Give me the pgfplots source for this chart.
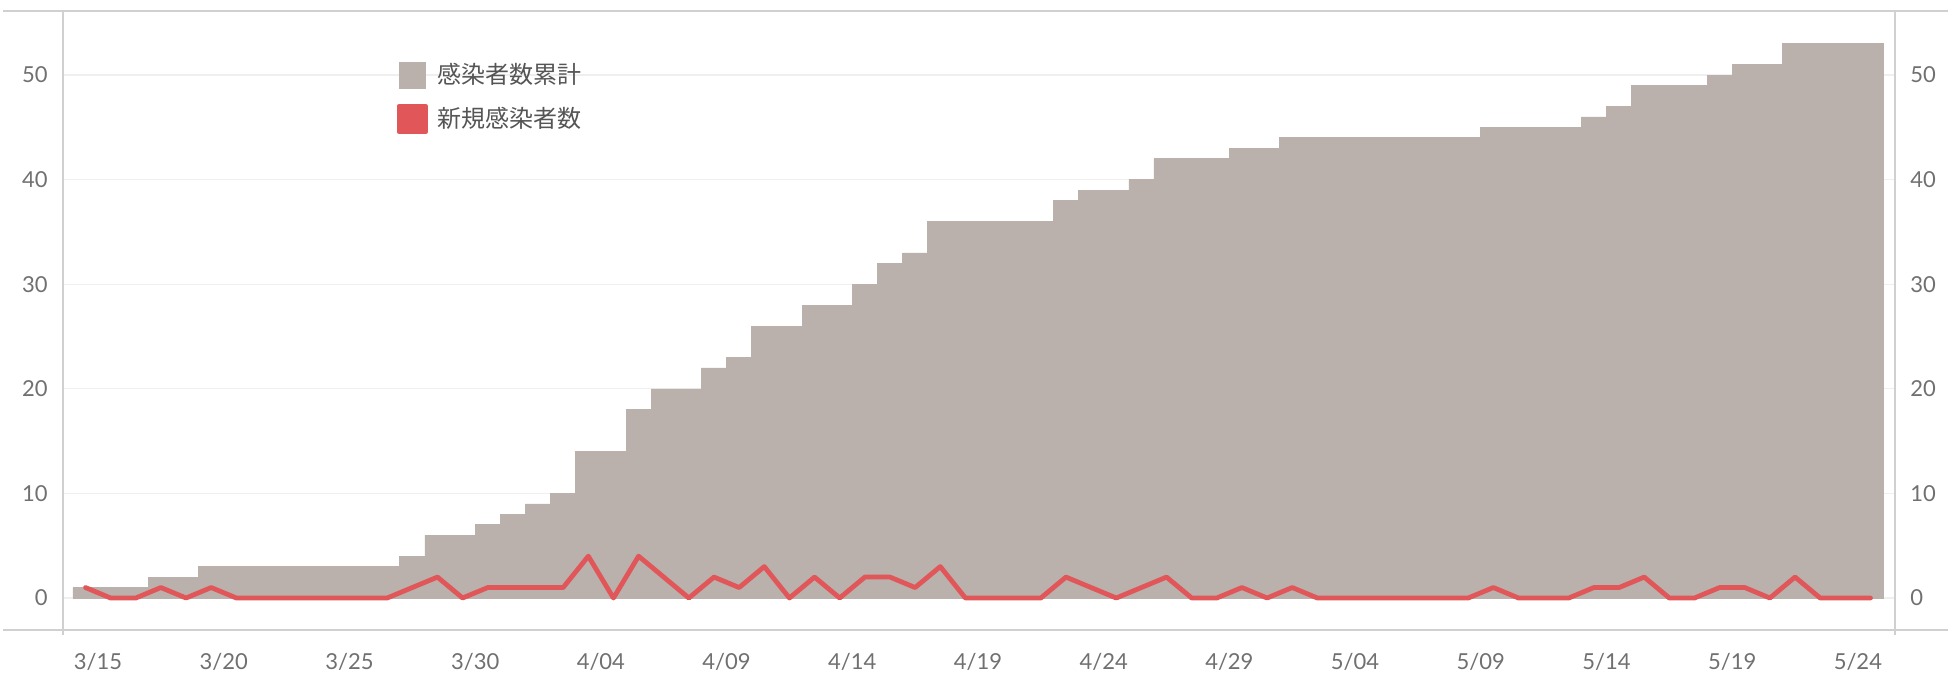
\documentclass[border=0pt]{standalone}
\usepackage{fontspec}
\setmainfont{Lato}
\newfontfamily\cjk{Noto Sans CJK JP}
\usepackage{pgfplots}
\usepackage{pgfplotstable}
\pgfplotsset{compat=1.18}
\definecolor{barcol}{HTML}{BAB0AC}
\definecolor{redcol}{HTML}{E15759}
\definecolor{framecol}{HTML}{D0D0D0}
\definecolor{gridcol}{HTML}{EFEFEF}
\definecolor{ticktext}{HTML}{707070}
\definecolor{legtext}{HTML}{555555}

\pgfplotstableread{
day cum new
0 1 1
1 1 0
2 1 0
3 2 1
4 2 0
5 3 1
6 3 0
7 3 0
8 3 0
9 3 0
10 3 0
11 3 0
12 3 0
13 4 1
14 6 2
15 6 0
16 7 1
17 8 1
18 9 1
19 10 1
20 14 4
21 14 0
22 18 4
23 20 2
24 20 0
25 22 2
26 23 1
27 26 3
28 26 0
29 28 2
30 28 0
31 30 2
32 32 2
33 33 1
34 36 3
35 36 0
36 36 0
37 36 0
38 36 0
39 38 2
40 39 1
41 39 0
42 40 1
43 42 2
44 42 0
45 42 0
46 43 1
47 43 0
48 44 1
49 44 0
50 44 0
51 44 0
52 44 0
53 44 0
54 44 0
55 44 0
56 45 1
57 45 0
58 45 0
59 45 0
60 46 1
61 47 1
62 49 2
63 49 0
64 49 0
65 50 1
66 51 1
67 51 0
68 53 2
69 53 0
70 53 0
71 53 0
}\data

\begin{document}
\begin{tikzpicture}
\path[use as bounding box] (0,0) rectangle (974pt,338.5pt);
\pgfplotsset{base/.style={
  scale only axis, width=916pt, height=309.5pt,
  at={(31.5pt,23.5pt)}, anchor=south west,
  xmin=-0.895, xmax=71.977, ymin=-3.06, ymax=56.12,
  axis line style={draw=none},
  major tick length=0pt,
  ytick={0,10,20,30,40,50},
  ticklabel style={font=\fontsize{11}{13}\selectfont, text=ticktext, inner sep=0pt},
  /pgf/number format/assume math mode=true}}
\begin{axis}[base,
  ymajorgrids, grid style={gridcol, line width=0.6pt},
  xtick={0.5,5.5,10.5,15.5,20.5,25.5,30.5,35.5,40.5,45.5,50.5,55.5,60.5,65.5,70.5},
  xticklabels={3/15,3/20,3/25,3/30,4/04,4/09,4/14,4/19,4/24,4/29,5/04,5/09,5/14,5/19,5/24},
  xticklabel style={anchor=center, yshift=-16pt},
  yticklabel style={anchor=east, xshift=-7.5pt},
  legend cell align=left,
  legend style={at={(axis description cs:0.1823,0.9176)}, anchor=north west,
    draw=none, fill=none, inner sep=0pt, outer sep=0pt,
    row sep=7.5pt, column sep=5pt,
    nodes={inner sep=0pt, text=legtext, font=\cjk\fontsize{12}{14}\selectfont}},
]
\addplot[ybar, bar width=1, bar shift=0pt, fill=barcol, draw=barcol, line width=0.3pt,
  legend image code/.code={\fill[barcol] (0pt,-6.5pt) rectangle (13pt,6.5pt);}]
  table[x=day, y=cum]{\data};
\addlegendentry{感染者数累計}
\addplot[redcol, line width=2.4pt, line join=round, line cap=round, mark=none,
  legend image code/.code={\fill[redcol] (0pt,-6.5pt) rectangle (13pt,6.5pt);}]
  table[x=day, y=new]{\data};
\addlegendentry{新規感染者数}
\end{axis}
\begin{axis}[base,
  xtick=\empty,
  yticklabel pos=right,
  yticklabel style={anchor=west, xshift=7.5pt},
]
\end{axis}
\draw[framecol, line width=1pt] (1.5pt,333pt) -- (974pt,333pt);
\draw[framecol, line width=1pt] (1.5pt,23.5pt) -- (974pt,23.5pt);
\draw[framecol, line width=1pt] (31.5pt,21pt) -- (31.5pt,333pt);
\draw[framecol, line width=1pt] (947.5pt,21pt) -- (947.5pt,333pt);
\end{tikzpicture}
\end{document}
